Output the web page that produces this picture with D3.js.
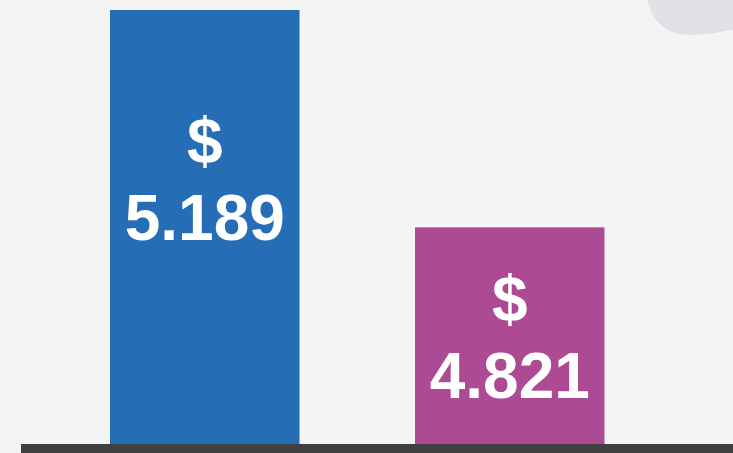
<!DOCTYPE html>
<html><head><meta charset="utf-8">
<script src="https://cdn.jsdelivr.net/npm/d3@7"></script>
<style>html,body{margin:0;padding:0;background:#f4f4f4;overflow:hidden}</style>
</head><body><svg id="c" width="733" height="453"></svg>
<script>
const categories = ["A", "B"];
const values = [5.189, 4.821];
const labels = ["5.189", "4.821"];
const colors = ["#256db4", "#ac4b94"];

const W = 733, H = 453;
const svg = d3.select("#c");
svg.append("rect").attr("width", W).attr("height", H).attr("fill", "#f4f4f4");

// decorative blob top-right
svg.append("path")
  .attr("d", "M647,0 C652,20 665,35 690,35 C710,35 722,31 733,30 L733,0 Z")
  .attr("fill", "#e2e1e8");

const x = d3.scaleBand().domain(categories).range([110, 604.5]).paddingInner(0.3787).paddingOuter(0);
const y = d3.scaleLinear().domain([4.4542, 5.189]).range([444, 10]);

svg.selectAll("rect.bar").data(values).join("rect")
  .attr("class", "bar")
  .attr("x", (d, i) => x(categories[i]))
  .attr("y", d => y(d))
  .attr("width", x.bandwidth())
  .attr("height", d => 444 - y(d))
  .attr("fill", (d, i) => colors[i]);

// baseline
svg.append("rect").attr("x", 21).attr("y", 444).attr("width", W - 21).attr("height", 9).attr("fill", "#404040");

const g = svg.selectAll("g.lbl").data(values).join("g").attr("class", "lbl")
  .attr("transform", (d, i) => `translate(${x(categories[i]) + x.bandwidth() / 2},${232.7 + 0.727 * y(d)})`);
g.append("text").attr("text-anchor", "middle").attr("y", -77)
  .attr("fill", "#fff").attr("font-family", "Liberation Sans, Arial, sans-serif")
  .attr("font-weight", "bold").attr("font-size", 64).text("$");
g.append("text").attr("text-anchor", "middle").attr("y", 0)
  .attr("fill", "#fff").attr("font-family", "Liberation Sans, Arial, sans-serif")
  .attr("font-weight", "bold").attr("font-size", 64).text((d, i) => labels[i]);
</script></body></html>
